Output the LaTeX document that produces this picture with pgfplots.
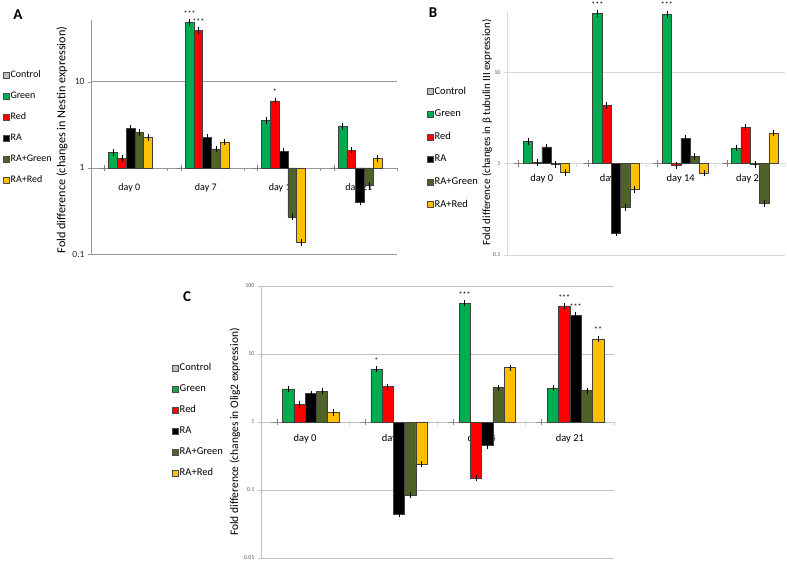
\documentclass[border=0pt]{standalone}
\usepackage{pgfplots}
\pgfplotsset{compat=1.18}
\usepackage{fontspec}
\setmainfont{Carlito}
\definecolor{cctrl}{RGB}{191,191,191}
\definecolor{cgreen}{RGB}{0,172,80}
\definecolor{cred}{RGB}{255,0,0}
\definecolor{cra}{RGB}{0,0,0}
\definecolor{cragreen}{RGB}{79,98,40}
\definecolor{crared}{RGB}{255,192,0}
\definecolor{gridA}{RGB}{150,150,150}
\definecolor{gridB}{RGB}{217,217,217}
\definecolor{gridC}{RGB}{192,192,192}

\pgfkeys{/pgf/number format/assume math mode=true}
\pgfplotsset{
  eb/.style={draw=black!75, line width=0.5pt,
    error bars/y dir=both, error bars/y fixed relative=0.035,
    error bars/error bar style={black, line width=0.5pt},
    error bars/error mark options={black, mark size=2pt, line width=0.5pt}},
  ebc/.style={fill=cctrl, draw=black!50, line width=0.5pt,
    error bars/y dir=both, error bars/y fixed relative=0.035,
    error bars/error bar style={black!50, line width=0.5pt},
    error bars/error mark options={black!50, mark size=2pt, line width=0.5pt}},
}
\tikzset{star/.style={font=\fontsize{8}{8}\selectfont, anchor=base, yshift=5pt, inner sep=0pt}}

\begin{document}
\begin{tikzpicture}
\useasboundingbox (0,0) rectangle (787pt,563pt);

% ---------------- A: Nestin
\begin{axis}[
  scale only axis, ymode=log, log origin=0, ybar=0pt, clip=false,
  xmin=-0.46, xmax=3.54, xtick={0.04,1.04,2.04,3.04}, xticklabels={day 0,day 7,day 14,day 21},
  x tick style={draw=none}, axis x line*=bottom, x axis line style={draw=none},
  axis y line*=left, ymajorgrids, yminorticks=false,
  tick align=outside, major tick length=3pt, log ticks with fixed point,
  legend cell align=left,
  every axis plot post/.append style={legend image code/.code={\draw[##1,draw=black!70] (0pt,-3pt) rectangle (6pt,3pt);}},
  at={(91pt,309pt)}, anchor=south west,
  width=306pt, height=234pt,
  ymin=0.1, ymax=52, ytick={0.1,1,10},
  bar width=0.114,
  grid style={gridA, line width=0.6pt},
  y axis line style={gridA, line width=0.6pt},
  ytick style={gridA},
  yticklabel style={font=\fontsize{9.5}{10}\selectfont, text=black!85},
  xticklabel style={font=\fontsize{10}{12}\selectfont, anchor=center, yshift=69pt},
  ylabel={Fold difference (changes in Nestin expression)},
  ylabel style={font=\fontsize{12.2}{13}\selectfont, at={(axis description cs:-0.095,0.487)}, anchor=center},
  legend style={at={(-0.288,0.79)}, anchor=north west, draw=none, fill=none, inner sep=0pt,
    font=\fontsize{10}{12}\selectfont, row sep=10pt,
    nodes={inner sep=1pt, text height=7pt, text depth=2pt}},
]
\addplot[ebc] coordinates {(0,1) (1,1) (2,1) (3,1)};
\addplot[fill=cgreen, eb] coordinates {(0,1.50) (1,49) (2,3.55) (3,3.02)};
\addplot[fill=cred, eb] coordinates {(0,1.28) (1,39.4) (2,6.0) (3,1.61)};
\addplot[fill=cra, eb] coordinates {(0,2.85) (1,2.25) (2,1.55) (3,0.40)};
\addplot[fill=cragreen, eb] coordinates {(0,2.58) (1,1.66) (2,0.27) (3,0.62)};
\addplot[fill=crared, eb] coordinates {(0,2.26) (1,2.0) (2,0.137) (3,1.28)};
\legend{Control,Green,Red,RA,RA+Green,RA+Red}
\pgfplotsinvokeforeach{0.54,1.54,2.54,3.54}{\draw[gridA, line width=0.6pt] (axis cs:#1,1) -- ++(0pt,-3pt);}
\node[star] at (axis cs:0.829,50.5) {***};
\node[star] at (axis cs:0.943,40.8) {***};
\node[star] at (axis cs:1.943,6.2) {*};
\end{axis}

% ---------------- B: beta tubulin III
\begin{axis}[
  scale only axis, ymode=log, log origin=0, ybar=0pt, clip=false,
  xmin=-0.5, xmax=3.5, xtick={0,1,2,3}, xticklabels={day 0,day 7,day 14,day 21},
  x tick style={draw=none}, axis x line*=bottom, x axis line style={draw=none},
  axis y line*=left, ymajorgrids, yminorticks=false,
  tick align=outside, major tick length=3pt, log ticks with fixed point,
  legend cell align=left,
  every axis plot post/.append style={legend image code/.code={\draw[##1,draw=black!70] (0pt,-3pt) rectangle (6pt,3pt);}},
  at={(507pt,308pt)}, anchor=south west,
  width=278pt, height=243pt,
  ymin=0.1, ymax=45.5, ytick={0.1,1,10},
  bar width=0.134,
  grid style={gridB, line width=0.8pt},
  y axis line style={gridB, line width=0.8pt},
  ytick style={gridB},
  yticklabel style={font=\fontsize{6}{7}\selectfont, text=black!65},
  xticklabel style={font=\fontsize{10.5}{12}\selectfont, anchor=center, yshift=79pt},
  ylabel={Fold difference (changes in β tubulin III expression)},
  ylabel style={font=\fontsize{11}{12}\selectfont, at={(axis description cs:-0.072,0.504)}, anchor=center},
  legend style={at={(-0.288,0.696)}, anchor=north west, draw=none, fill=none, inner sep=0pt,
    font=\fontsize{10.5}{12}\selectfont, row sep=11.6pt,
    nodes={inner sep=1pt, text height=7pt, text depth=2pt}},
]
\addplot[ebc] coordinates {(0,1) (1,1) (2,1) (3,1)};
\addplot[fill=cgreen, eb] coordinates {(0,1.76) (1,44) (2,43) (3,1.48)};
\addplot[fill=cred, eb] coordinates {(0,1.03) (1,4.32) (2,0.95) (3,2.49)};
\addplot[fill=cra, eb] coordinates {(0,1.52) (1,0.175) (2,1.89) (3,0.975)};
\addplot[fill=cragreen, eb] coordinates {(0,0.975) (1,0.334) (2,1.2) (3,0.366)};
\addplot[fill=crared, eb] coordinates {(0,0.80) (1,0.52) (2,0.79) (3,2.16)};
\legend{Control,Green,Red,RA,RA+Green,RA+Red}
\pgfplotsinvokeforeach{0.5,1.5,2.5,3.5}{\draw[gridB, line width=0.8pt] (axis cs:#1,1) -- ++(0pt,-3pt);}
\node[star] at (axis cs:0.799,45) {***};
\node[star] at (axis cs:1.799,44.5) {***};
\end{axis}

% ---------------- C: Olig2
\begin{axis}[
  scale only axis, ymode=log, log origin=0, ybar=0pt, clip=false,
  xmin=-0.5, xmax=3.5, xtick={0,1,2,3}, xticklabels={day 0,day 7,day 14,day 21},
  x tick style={draw=none}, axis x line*=bottom, x axis line style={draw=none},
  axis y line*=left, ymajorgrids, yminorticks=false,
  tick align=outside, major tick length=3pt, log ticks with fixed point,
  legend cell align=left,
  every axis plot post/.append style={legend image code/.code={\draw[##1,draw=black!70] (0pt,-3pt) rectangle (6pt,3pt);}},
  at={(261pt,5pt)}, anchor=south west,
  width=353pt, height=272pt,
  ymin=0.01, ymax=100, ytick={0.01,0.1,1,10,100},
  bar width=0.128,
  grid style={gridC, line width=0.7pt},
  y axis line style={gridC, line width=0.7pt},
  ytick style={gridC},
  yticklabel style={font=\fontsize{6}{7}\selectfont, text=black!65},
  xticklabel style={font=\fontsize{10.5}{12}\selectfont, anchor=center, yshift=122pt},
  ylabel={Fold difference (changes in Olig2 expression)},
  ylabel style={font=\fontsize{11.5}{12}\selectfont, at={(axis description cs:-0.074,0.463)}, anchor=center},
  legend style={at={(-0.252,0.72)}, anchor=north west, draw=none, fill=none, inner sep=0pt,
    font=\fontsize{10.5}{12}\selectfont, row sep=10pt,
    nodes={inner sep=1pt, text height=7pt, text depth=2pt}},
]
\addplot[ebc] coordinates {(0,1) (1,1) (2,1) (3,1)};
\addplot[fill=cgreen, eb] coordinates {(0,3.06) (1,6.0) (2,55.5) (3,3.16)};
\addplot[fill=cred, eb] coordinates {(0,1.81) (1,3.3) (2,0.148) (3,51)};
\addplot[fill=cra, eb] coordinates {(0,2.61) (1,0.044) (2,0.45) (3,37)};
\addplot[fill=cragreen, eb] coordinates {(0,2.82) (1,0.084) (2,3.19) (3,2.89)};
\addplot[fill=crared, eb] coordinates {(0,1.38) (1,0.24) (2,6.3) (3,16.6)};
\legend{Control,Green,Red,RA,RA+Green,RA+Red}
\pgfplotsinvokeforeach{0.5,1.5,2.5,3.5}{\draw[gridC, line width=0.7pt] (axis cs:#1,1) -- ++(0pt,-3pt);}
\node[star] at (axis cs:0.808,6.2) {*};
\node[star] at (axis cs:1.808,57) {***};
\node[star] at (axis cs:2.936,52.5) {***};
\node[star] at (axis cs:3.064,38.3) {***};
\node[star] at (axis cs:3.32,17.2) {**};
\end{axis}

\node[font=\fontsize{15}{15}\selectfont\bfseries] at (18pt,548pt) {A};
\node[font=\fontsize{15}{15}\selectfont\bfseries] at (433pt,550pt) {B};
\node[font=\fontsize{15}{15}\selectfont\bfseries] at (187pt,266pt) {C};
\end{tikzpicture}
\end{document}
